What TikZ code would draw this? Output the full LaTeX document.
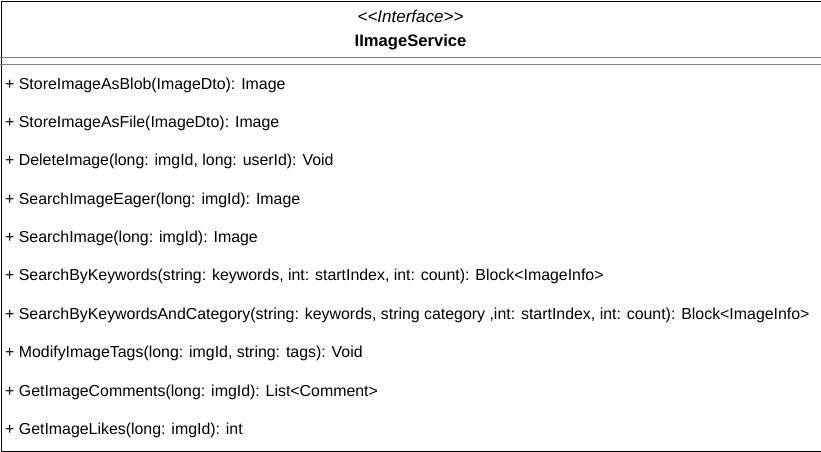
\documentclass[tikz,border=0pt]{standalone}
\usepackage{fontspec}
\setmainfont{Liberation Sans}
% keep pairs of angle brackets as two separate glyphs
\newcommand{\lt}{\textless\kern0pt}
\newcommand{\gt}{\textgreater\kern0pt}
\begin{document}
\begin{tikzpicture}[x=1pt,y=-1pt,
  member/.style={anchor=west,inner sep=0pt,font=\fontsize{15.9}{18}\selectfont},
  sep/.style={draw=black!50,line width=1pt}]
\useasboundingbox (0,0) rectangle (821,451);
\node[draw=black,line width=1pt,minimum width=820pt,minimum height=450pt,anchor=north west,inner sep=0pt] (box) at (0.5,0.5) {};
\node[inner sep=0pt,font=\fontsize{17}{19}\selectfont\itshape] (stereo) at (410.5,16) {\lt\lt Interface\gt\gt};
\node[inner sep=0pt,font=\fontsize{16.6}{19}\selectfont\bfseries] (name) at (410.5,42.5) {IImageService};
\draw[sep] (0,57.5) -- (821,57.5);
\draw[sep] (0,64.5) -- (821,64.5);
\node[member] (m1) at (5,85) {+ StoreImageAsBlob(ImageDto): Image};
\node[member] (m2) at (5,123) {+ StoreImageAsFile(ImageDto): Image};
\node[member] (m3) at (5,161) {+ DeleteImage(long: imgId, long: userId): Void};
\node[member] (m4) at (5,200) {+ SearchImageEager(long: imgId): Image};
\node[member] (m5) at (5,238) {+ SearchImage(long: imgId): Image};
\node[member] (m6) at (5,276) {+ SearchByKeywords(string: keywords, int: startIndex, int: count): Block\lt ImageInfo\gt};
\node[member] (m7) at (5,315) {+ SearchByKeywordsAndCategory(string: keywords, string category ,int: startIndex, int: count): Block\lt ImageInfo\gt};
\node[member] (m8) at (5,353) {+ ModifyImageTags(long: imgId, string: tags): Void};
\node[member] (m9) at (5,392) {+ GetImageComments(long: imgId): List\lt Comment\gt};
\node[member] (m10) at (5,430) {+ GetImageLikes(long: imgId): int};
\end{tikzpicture}
\end{document}
